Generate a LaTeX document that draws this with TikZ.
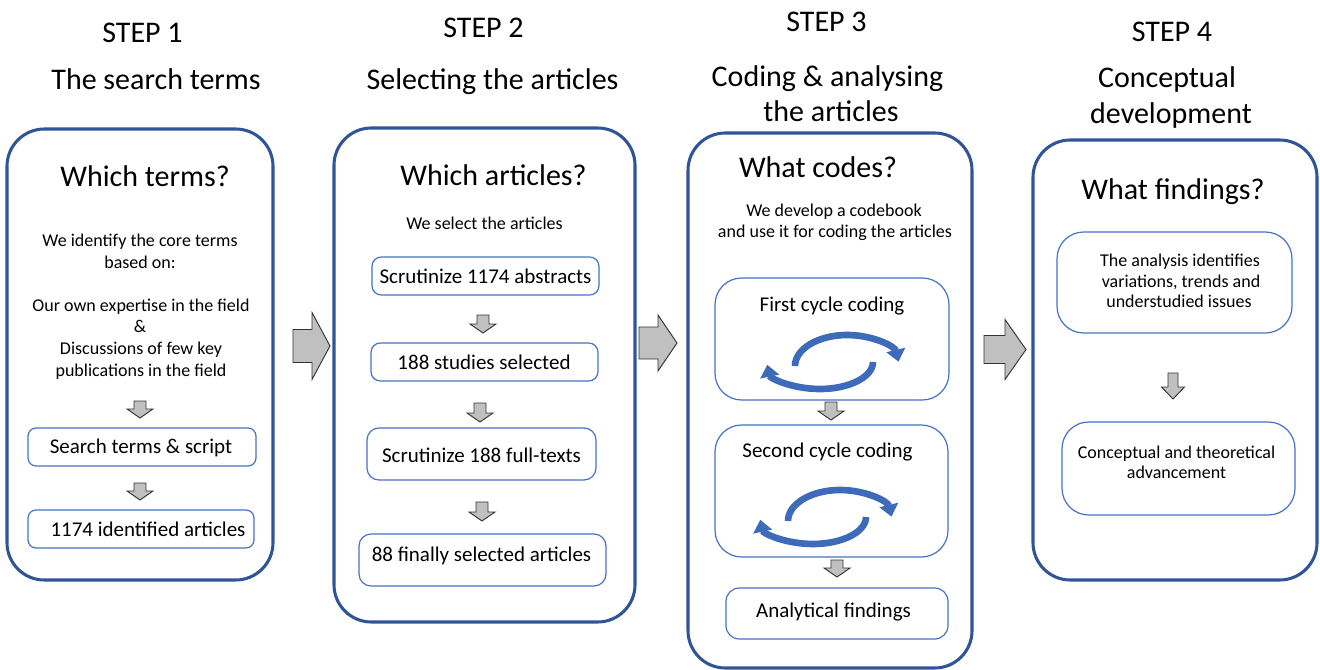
\documentclass[tikz,border=0pt]{standalone}
\usepackage{fontspec}
\setmainfont{Carlito}
\usetikzlibrary{arrows.meta}
\definecolor{frameblue}{RGB}{47,85,151}
\definecolor{boxblue}{RGB}{68,114,196}
\definecolor{cycleblue}{RGB}{62,106,186}
\definecolor{arrowgray}{RGB}{192,192,192}

% right-pointing block arrow: shaft start x, head x, tip x, centre y, shaft half, head half
\newcommand\rightblock[6]{%
  \draw[blockarrow] (#1,#4-#5) -- (#2,#4-#5) -- (#2,#4-#6) -- (#3,#4)
    -- (#2,#4+#6) -- (#2,#4+#5) -- (#1,#4+#5) -- cycle;}
% down-pointing block arrow: centre x, top y, tip y, shaft half, head half, head height
\newcommand\downblock[6]{%
  \draw[blockarrow] (#1-#4,#2) -- (#1+#4,#2) -- (#1+#4,#3-#6) -- (#1+#5,#3-#6)
    -- (#1,#3) -- (#1-#5,#3-#6) -- (#1-#4,#3-#6) -- cycle;}
% pair of circular arrows of a coding cycle, offset from the first one
\newcommand\cyclepair[2]{%
  \begin{scope}[shift={(#1,#2)}]
    \draw[cyc] (795,366) arc[start angle=180,end angle=352,x radius=52,y radius=31];
    \draw[cyc] (873,362) arc[start angle=0,end angle=174,x radius=53,y radius=27];
  \end{scope}}

\begin{document}
\begin{tikzpicture}[x=0.75pt,y=-0.75pt,
  wh/.style 2 args={minimum width=#1*0.75pt, minimum height=#2*0.75pt},
  stage/.style={draw=frameblue, line width=2.3pt, rounded corners=28pt, inner sep=0pt},
  item/.style={draw=boxblue, line width=0.9pt, rounded corners=#1, inner sep=0pt},
  item/.default=7pt,
  head/.style={anchor=base, inner sep=0pt, font=\fontsize{22.5pt}{27pt}\selectfont},
  itemtxt/.style={anchor=base, inner sep=0pt, font=\fontsize{15.75pt}{19pt}\selectfont},
  note/.style={anchor=base, inner sep=0pt, font=\fontsize{13.5pt}{16pt}\selectfont},
  blockarrow/.style={fill=arrowgray, draw=black!80, line width=0.7pt, line join=miter},
  cyc/.style={draw=cycleblue, line width=5pt, -{Triangle[width=14pt,length=9pt]}}]
\useasboundingbox (0,0) rectangle (1320,670);

% ---------- step headings ----------
\node[head] (st1) at (142.5,42.5) {STEP 1};
\node[head] (ti1) at (156,89.5) {The search terms};
\node[head] (st2) at (483.5,37.5) {STEP 2};
\node[head] (ti2) at (492.5,89.5) {Selecting the articles};
\node[head] (st3) at (826.5,31.5) {STEP 3};
\node[head] (ti3a) at (827.5,86.5) {Coding \& analysing};
\node[head] (ti3b) at (831,121.5) {the articles};
\node[head] (st4) at (1172,41.5) {STEP 4};
\node[head] (ti4a) at (1167,87.5) {Conceptual};
\node[head] (ti4b) at (1171,123.5) {development};

% ---------- stage frames ----------
\node[stage, wh={266}{451}] (stage1) at (140,354.5) {};
\node[stage, wh={301}{494}] (stage2) at (484.5,375) {};
\node[stage, wh={284}{535}] (stage3) at (830,400.5) {};
\node[stage, wh={284}{440}] (stage4) at (1175,360) {};

% ---------- arrows between stages ----------
\rightblock{293}{312}{330}{346}{16.5}{33.5}
\rightblock{639}{658}{677}{343}{16}{28}
\rightblock{984}{1005}{1026}{349.5}{14}{30}

% ---------- step 1 ----------
\node[head] (q1) at (145,187) {Which terms?};
\node[note] (n1a) at (140,247) {We identify the core terms};
\node[note] (n1b) at (140,268) {based on:};
\node[note] (n1c) at (141,311) {Our own expertise in the field};
\node[note] (n1d) at (140,332) {\&};
\node[note] (n1e) at (141,354) {Discussions of few key};
\node[note] (n1f) at (141,376) {publications in the field};
\downblock{140}{401}{418}{6}{13}{9}
\node[item=6pt, wh={228}{38}] (s1a) at (142,447) {};
\node[itemtxt] (t1a) at (141,453) {Search terms \& script};
\downblock{140}{483}{500}{6}{13}{9}
\node[item=6pt, wh={226}{38}] (s1b) at (141,529) {};
\node[itemtxt] (t1b) at (148,536) {1174 identified articles};

% ---------- step 2 ----------
\node[head] (q2) at (493.5,186) {Which articles?};
\node[note] (n2) at (484.5,230) {We select the articles};
\node[item=7pt, wh={227}{38}] (s2a) at (485.5,276) {};
\node[itemtxt] (t2a) at (485.5,283) {Scrutinize 1174 abstracts};
\downblock{483}{315}{333}{6}{13}{9}
\node[item=7pt, wh={227}{38}] (s2b) at (484.5,362) {};
\node[itemtxt] (t2b) at (484,369) {188 studies selected};
\downblock{480}{403}{422}{6}{13}{9}
\node[item=9pt, wh={229}{52}] (s2c) at (481.5,454) {};
\node[itemtxt] (t2c) at (481.5,462) {Scrutinize 188 full-texts};
\downblock{482}{502}{521}{6}{13}{9}
\node[item=9pt, wh={247}{52}] (s2d) at (482.5,560) {};
\node[itemtxt] (t2d) at (481.5,561) {88 finally selected articles};

% ---------- step 3 ----------
\node[head] (q3) at (818,177.5) {What codes?};
\node[note] (n3a) at (834,217) {We develop a codebook};
\node[note] (n3b) at (835,238) {and use it for coding the articles};
\node[item=20pt, wh={234}{122}] (s3a) at (832,339) {};
\node[itemtxt] (t3a) at (832,311) {First cycle coding};
\cyclepair{0}{0}
\downblock{831}{402}{420}{6}{13}{9}
\node[item=20pt, wh={233}{132}] (s3b) at (831.5,491) {};
\node[itemtxt] (t3b) at (827.5,457) {Second cycle coding};
\cyclepair{-7}{155}
\downblock{837}{560}{577}{6}{13}{9}
\node[item=10pt, wh={222}{51}] (s3c) at (837,613.5) {};
\node[itemtxt] (t3c) at (833.5,617) {Analytical findings};

% ---------- step 4 ----------
\node[head] (q4) at (1173,199.5) {What findings?};
\node[item=20pt, wh={235}{101}] (s4a) at (1174.5,282.5) {};
\node[note] (t4a1) at (1180,267) {The analysis identifies};
\node[note] (t4a2) at (1181,287) {variations, trends and};
\node[note] (t4a3) at (1179,307) {understudied issues};
\downblock{1173}{373}{399}{5}{11.5}{12}
\node[item=20pt, wh={233}{93}] (s4b) at (1178.5,468.5) {};
\node[note] (t4b1) at (1176.5,458) {Conceptual and theoretical};
\node[note] (t4b2) at (1176.5,478) {advancement};
\end{tikzpicture}
\end{document}
